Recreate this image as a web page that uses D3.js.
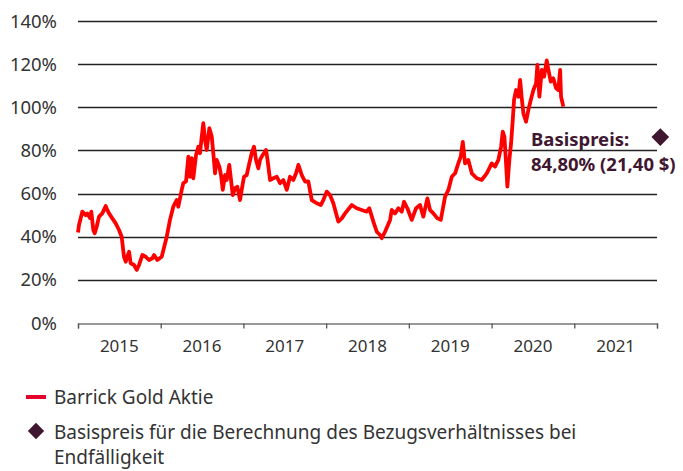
<!DOCTYPE html>
<html><head><meta charset="utf-8">
<script src="https://cdn.jsdelivr.net/npm/d3@7"></script>
<style>
html,body{margin:0;padding:0;background:#fff;}
svg{display:block;font-family:"Noto Sans",sans-serif;}
</style></head>
<body><svg id="c" width="683" height="471"></svg>
<script>
// time in decimal years, value in % of the basis price
const dates = [
2015.000,2015.012,2015.052,2015.093,2015.112,2015.145,2015.161,2015.185,2015.202,2015.226,
2015.254,2015.294,2015.335,2015.354,2015.375,2015.415,2015.456,2015.496,2015.528,2015.556,
2015.577,2015.596,2015.617,2015.637,2015.677,2015.710,2015.738,2015.778,2015.819,2015.859,
2015.898,2015.919,2015.959,
2016.012,2016.073,2016.112,2016.152,2016.193,2016.213,2016.254,2016.273,2016.306,2016.334,
2016.354,2016.375,2016.394,2016.427,2016.455,2016.475,2016.496,2016.515,2016.536,2016.556,
2016.588,2016.617,2016.636,2016.657,2016.677,2016.709,2016.729,2016.750,2016.778,2016.798,
2016.829,2016.850,2016.871,2016.898,2016.926,2016.959,2016.979,
2017.007,2017.040,2017.071,2017.100,2017.128,2017.152,2017.180,2017.201,2017.233,2017.273,
2017.289,2017.322,2017.362,2017.403,2017.443,2017.482,2017.524,2017.563,2017.603,2017.636,
2017.664,2017.705,2017.745,2017.785,2017.826,2017.886,2017.935,2017.966,
2018.007,2018.047,2018.087,2018.147,2018.189,2018.229,2018.310,2018.370,2018.430,2018.491,
2018.522,2018.571,2018.612,2018.652,2018.672,2018.712,2018.773,2018.793,2018.833,2018.873,
2018.914,2018.942,2018.982,
2019.035,2019.087,2019.135,2019.175,2019.224,2019.256,2019.296,2019.345,2019.386,2019.438,
2019.478,2019.519,2019.559,2019.598,2019.627,2019.652,2019.679,2019.719,2019.761,2019.821,
2019.882,2019.942,
2020.002,2020.042,2020.082,2020.115,2020.135,2020.155,2020.175,2020.191,2020.215,2020.236,
2020.256,2020.272,2020.296,2020.324,2020.345,2020.365,2020.385,2020.417,2020.445,2020.474,
2020.506,2020.538,2020.554,2020.578,2020.607,2020.635,2020.667,2020.687,2020.716,2020.747,
2020.780,2020.807,2020.829,2020.840,2020.868
];
const values = [
42.0,45.4,51.6,50.0,50.8,48.7,51.6,43.1,41.6,44.6,
49.3,50.8,54.2,52.4,50.8,48.5,46.2,43.1,40.0,30.7,
28.4,30.7,33.0,27.7,26.9,24.6,26.9,31.5,30.7,29.2,
30.0,31.5,29.2,
30.7,40.0,47.8,53.9,57.0,53.9,61.7,64.8,65.6,77.1,
67.8,76.4,67.1,77.9,81.7,78.7,86.4,92.6,84.8,80.2,
90.3,86.4,78.7,69.4,75.6,72.5,68.6,61.7,68.6,66.3,
73.3,66.3,59.3,62.4,63.2,57.0,61.7,
67.8,68.6,74.0,78.7,81.7,75.6,71.7,75.6,77.9,80.2,
76.4,66.3,67.1,67.8,64.8,66.3,61.7,67.8,66.3,69.4,
73.3,68.6,65.6,65.6,57.0,55.5,54.7,57.0,
60.9,59.3,55.5,47.0,48.5,50.8,54.7,53.2,52.4,51.6,
53.2,47.0,42.3,40.8,39.3,42.3,47.8,52.4,50.8,53.2,
51.6,56.2,53.2,
47.8,53.2,54.7,49.3,57.8,52.4,50.8,48.5,47.8,58.6,
61.7,67.8,69.4,74.0,77.1,84.0,74.0,75.6,69.4,67.1,
66.3,69.4,
74.0,72.5,75.6,81.7,88.7,86.4,74.0,63.2,75.6,83.3,
94.1,103.5,108.0,104.9,112.7,104.2,97.2,93.3,98.8,103.4,
108.0,111.1,119.6,104.9,117.3,114.2,121.7,117.3,111.9,113.4,
108.8,108.0,117.3,104.9,100.3
];
const yTicks = [0,20,40,60,80,100,120,140];
const years = [2015,2016,2017,2018,2019,2020,2021];
const basisDate = 2022.04;
const basisValue = 84.8;
const basisLabel1 = "Basispreis:";
const basisLabel2 = "84,80% (21,40 $)";
const legendLine = "Barrick Gold Aktie";
const legendDiamond1 = "Basispreis für die Berechnung des Bezugsverhältnisses bei";
const legendDiamond2 = "Endfälligkeit";

const svg = d3.select("#c");
const x = d3.scaleLinear().domain([2015, 2022]).range([78, 657]);
const y = d3.scaleLinear().domain([0, 140]).range([323, 21]);
const maroon = "#3f1730";

// grid lines
svg.append("g").selectAll("line").data(yTicks.filter(d => d > 0)).join("line")
  .attr("x1", x(2015)).attr("x2", x(2022))
  .attr("y1", d => Math.round(y(d)) + 0.5).attr("y2", d => Math.round(y(d)) + 0.5)
  .attr("stroke", "#222").attr("stroke-width", 1.3);

// y labels
svg.append("g").selectAll("text").data(yTicks).join("text")
  .attr("x", 57).attr("y", d => y(d) + 6.5)
  .attr("text-anchor", "end").attr("font-size", 18.5).attr("fill", "#333")
  .text(d => d + "%");

// x axis
const xAxis = d3.axisBottom(x).tickValues(d3.range(2015, 2023)).tickSize(5).tickFormat("");
const gx = svg.append("g").attr("transform", `translate(0,${Math.round(y(0)) + 0.5})`).call(xAxis);
gx.select(".domain").attr("stroke", "#777").attr("stroke-width", 1.3);
gx.selectAll(".tick line").attr("stroke", "#555").attr("stroke-width", 1.3);
svg.append("g").selectAll("text").data(years).join("text")
  .attr("x", d => x(d + 0.5)).attr("y", 352)
  .attr("text-anchor", "middle").attr("font-size", 17).attr("fill", "#333")
  .text(d => d);

// line
const pts = dates.map((d, i) => [d, values[i]]);
svg.append("path").datum(pts)
  .attr("d", d3.line().x(d => x(d[0])).y(d => y(d[1])))
  .attr("fill", "none").attr("stroke", "#ff0000").attr("stroke-width", 3.8)
  .attr("stroke-linejoin", "round");

// basis diamond
const diamondBig = d3.symbol().type(d3.symbolDiamond2).size(200);
const diamondSmall = d3.symbol().type(d3.symbolDiamond2).size(170);
svg.append("path").attr("d", diamondBig())
  .attr("transform", `translate(${x(basisDate)},${y(basisValue) - 3})`)
  .attr("fill", maroon);
svg.append("text").attr("x", 531).attr("y", 146).attr("font-size", 18.5).attr("font-weight", 700)
  .attr("fill", maroon).text(basisLabel1);
svg.append("text").attr("x", 531).attr("y", 171).attr("font-size", 18.5).attr("font-weight", 700)
  .attr("fill", maroon).text(basisLabel2);

// legend
svg.append("line").attr("x1", 26).attr("x2", 46).attr("y1", 397).attr("y2", 397)
  .attr("stroke", "#e4022b").attr("stroke-width", 4);
svg.append("text").attr("x", 54).attr("y", 404).attr("font-size", 19).attr("fill", "#333").text(legendLine);
svg.append("path").attr("d", diamondSmall()).attr("transform", "translate(36,431)").attr("fill", maroon);
svg.append("text").attr("x", 54).attr("y", 439).attr("font-size", 19).attr("fill", "#333").text(legendDiamond1);
svg.append("text").attr("x", 54).attr("y", 464).attr("font-size", 19).attr("fill", "#333").text(legendDiamond2);
</script></body></html>
